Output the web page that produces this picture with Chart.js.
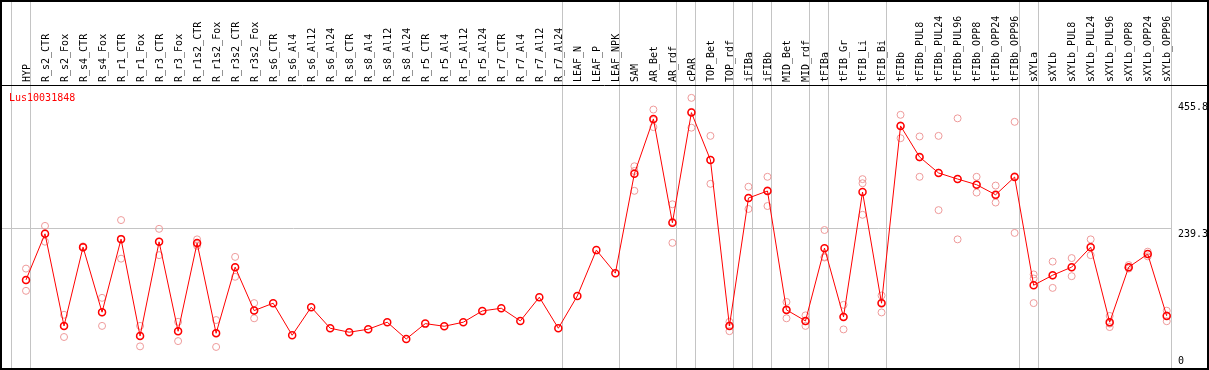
<!DOCTYPE html>
<html>
<head>
<meta charset="utf-8">
<script src="https://cdn.jsdelivr.net/npm/chart.js@4"></script>
<style>
  body { margin: 0; background: #fff; }
  canvas { display: block; }
</style>
</head>
<body>
<canvas id="expr" width="1209" height="370"></canvas>
<script>
const geneName = 'Lus10031848';

const categories = [
  'HYP', 'R_s2_CTR', 'R_s2_Fox', 'R_s4_CTR', 'R_s4_Fox', 'R_r1_CTR', 'R_r1_Fox',
  'R_r3_CTR', 'R_r3_Fox', 'R_r1s2_CTR', 'R_r1s2_Fox', 'R_r3s2_CTR', 'R_r3s2_Fox',
  'R_s6_CTR', 'R_s6_Al4', 'R_s6_Al12', 'R_s6_Al24', 'R_s8_CTR', 'R_s8_Al4',
  'R_s8_Al12', 'R_s8_Al24', 'R_r5_CTR', 'R_r5_Al4', 'R_r5_Al12', 'R_r5_Al24',
  'R_r7_CTR', 'R_r7_Al4', 'R_r7_Al12', 'R_r7_Al24', 'LEAF_N', 'LEAF_P', 'LEAF_NPK',
  'SAM', 'AR_Bet', 'AR_rdf', 'cPAR', 'TOP_Bet', 'TOP_rdf', 'iFIBa', 'iFIBb',
  'MID_Bet', 'MID_rdf', 'tFIBa', 'tFIB_Gr', 'tFIB_Li', 'tFIB_Bi', 'tFIBb',
  'tFIBb_PUL8', 'tFIBb_PUL24', 'tFIBb_PUL96', 'tFIBb_OPP8', 'tFIBb_OPP24', 'tFIBb_OPP96',
  'sXYLa', 'sXYLb', 'sXYLb_PUL8', 'sXYLb_PUL24', 'sXYLb_PUL96', 'sXYLb_OPP8',
  'sXYLb_OPP24', 'sXYLb_OPP96'
];

const means = [
  150.7, 229.5, 71.9, 206.7, 95.4, 220.4, 54.8, 215.8, 62.8, 213.6,
  59.4, 172.5, 98.2, 110.8, 56.0, 104.0, 68.0, 61.2, 66.3, 78.3,
  49.7, 75.9, 71.4, 78.3, 97.6, 102.2, 80.5, 121.1, 68.0, 123.3,
  201.6, 162.2, 332.3, 426.0, 248.4, 436.8, 355.8, 71.9, 290.7, 302.7,
  99.4, 80.5, 205.0, 87.4, 301.0, 110.8, 414.0, 360.9, 333.5, 323.2,
  313.5, 296.3, 326.6, 141.6, 158.7, 172.5, 206.7, 78.3, 172.5, 194.8,
  89.1
];

// replicate samples (null where only the mean is shown)
const rep1 = [
  170, 243, 91, 208, 120, 253, 72, 238, 79, 220,
  82, 190, 111, null, null, null, null, null, null, null,
  null, null, null, null, null, null, null, null, null, null,
  null, null, 345, 442, 280, 462, 397, 79, 310, 327,
  113, 90, 236, 108, 323, 124, 433, 396, 397, 427,
  327, 312, 421, 160, 182, 188, 220, 89, 176, 199,
  98
];
const rep2 = [
  150, 230, 72, 206, 95, 221, 55, 216, 63, 212,
  60, 172, 98, null, null, null, null, null, null, null,
  null, null, null, null, null, null, null, null, null, null,
  null, null, 337, 424, 250, 438, 356, 73, 290, 304,
  100, 80, 190, 88, 316, 112, 415, 360, 334, 323,
  314, 295, 328, 153, 158, 172, 207, 76, 172, 195,
  90
];
const rep3 = [
  132, 216, 53, 206, 72, 187, 37, 193, 46, 209,
  36, 156, 85, null, null, null, null, null, null, null,
  null, null, null, null, null, null, null, null, null, null,
  null, null, 303, 412, 214, 411, 315, 63, 272, 277,
  85, 72, 189, 66, 262, 95, 393, 327, 270, 220,
  300, 283, 231, 111, 137, 157, 193, 70, 170, 191,
  80
];

const yTicks = [0, 239.3, 455.8];
// group separators sit just right of these category indexes
const separators = [-1, 0, 28, 31, 34, 35, 37, 38, 39, 41, 42, 45, 52, 53];

const labelFont = { family: 'DejaVu Sans Mono', size: 10 };
const gridGray = '#c4c4c4';

function toPoints(values) {
  return values.map((v, i) => ({ x: i, y: v }));
}

const repStyle = {
  type: 'scatter',
  showLine: false,
  pointRadius: 3.5,
  pointBorderWidth: 1,
  pointBorderColor: '#ee9a9a',
  pointBackgroundColor: 'rgba(0,0,0,0)',
};

const framePlugin = {
  id: 'frame',
  beforeDatasetsDraw(chart) {
    const { ctx, chartArea, scales } = chart;
    ctx.save();
    ctx.strokeStyle = gridGray;
    ctx.lineWidth = 1;
    separators.forEach((s) => {
      const x = Math.round(scales.x.getPixelForValue(s + 0.21)) + 0.5;
      ctx.beginPath();
      ctx.moveTo(x, 0);
      ctx.lineTo(x, chartArea.bottom);
      ctx.stroke();
    });
    const xr = Math.round(chartArea.right) + 0.5;
    ctx.beginPath();
    ctx.moveTo(xr, 0);
    ctx.lineTo(xr, chartArea.bottom);
    ctx.stroke();
    ctx.restore();
  },
  afterDraw(chart) {
    const { ctx, chartArea, scales, width, height } = chart;
    ctx.save();
    ctx.strokeStyle = '#000';
    ctx.lineWidth = 2;
    ctx.strokeRect(1, 1, width - 2, height - 2);
    ctx.lineWidth = 1;
    ctx.beginPath();
    ctx.moveTo(0, Math.round(chartArea.top) + 0.5);
    ctx.lineTo(width, Math.round(chartArea.top) + 0.5);
    ctx.stroke();

    ctx.font = '10px "DejaVu Sans Mono"';
    ctx.fillStyle = '#000';
    ctx.textAlign = 'left';
    ctx.textBaseline = 'top';
    yTicks.forEach((t) => {
      let y = scales.y.getPixelForValue(t) + 1;
      if (y > chartArea.bottom - 12) y = chartArea.bottom - 12;
      ctx.fillText(t.toString(), chartArea.right + 7, y);
    });

    ctx.fillStyle = '#ff0000';
    ctx.textBaseline = 'middle';
    ctx.fillText(geneName, chartArea.left + 8, chartArea.top + 13);
    ctx.restore();
  },
};

const ctx = document.getElementById('expr').getContext('2d');
const chart = new Chart(ctx, {
  type: 'line',
  data: {
    datasets: [
      {
        label: 'mean',
        data: toPoints(means),
        borderColor: '#ff0000',
        borderWidth: 1,
        tension: 0,
        fill: false,
        pointRadius: 3.5,
        pointBorderWidth: 1.5,
        pointBorderColor: '#ff0000',
        pointBackgroundColor: 'rgba(0,0,0,0)',
      },
      Object.assign({ label: 'rep1', data: toPoints(rep1) }, repStyle),
      Object.assign({ label: 'rep2', data: toPoints(rep2) }, repStyle),
      Object.assign({ label: 'rep3', data: toPoints(rep3) }, repStyle),
    ],
  },
  options: {
    responsive: false,
    animation: false,
    devicePixelRatio: 1,
    layout: { autoPadding: false, padding: { left: 1, right: 1, top: 0, bottom: 2 } },
    plugins: {
      legend: { display: false },
      title: { display: false },
      tooltip: { enabled: false },
    },
    scales: {
      x: {
        type: 'linear',
        position: 'top',
        min: -1.315,
        max: 60.225,
        afterBuildTicks: (scale) => {
          scale.ticks = categories.map((c, i) => ({ value: i }));
        },
        afterFit: (scale) => {
          scale.height = 85;
          scale.paddingLeft = 0;
          scale.paddingRight = 0;
        },
        grid: { display: false, drawTicks: false },
        border: { display: false },
        ticks: {
          autoSkip: false,
          minRotation: 90,
          maxRotation: 90,
          padding: 3,
          labelOffset: 13,
          color: '#000',
          font: labelFont,
          callback: (v) => categories[v],
        },
      },
      y: {
        type: 'linear',
        position: 'right',
        min: 0,
        max: 484,
        afterBuildTicks: (scale) => {
          scale.ticks = yTicks.map((t) => ({ value: t }));
        },
        afterFit: (scale) => {
          scale.width = 37;
          scale.paddingTop = 0;
          scale.paddingBottom = 0;
        },
        grid: {
          drawTicks: false,
          color: (c) => (c.tick && c.tick.value === 239.3 ? gridGray : 'rgba(0,0,0,0)'),
        },
        border: { display: false },
        ticks: { display: false },
      },
    },
  },
  plugins: [framePlugin],
});
</script>
</body>
</html>
